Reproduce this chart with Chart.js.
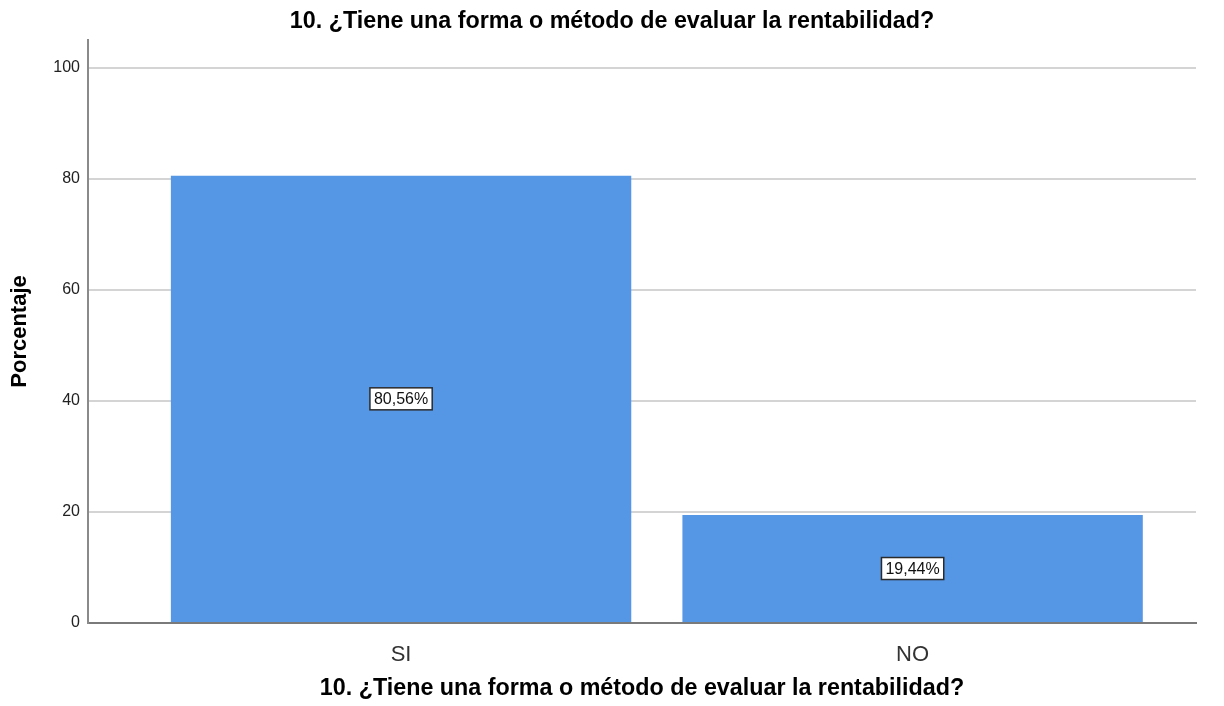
<!DOCTYPE html>
<html>
<head>
<meta charset="utf-8">
<script src="https://cdn.jsdelivr.net/npm/chart.js@4.4.1/dist/chart.umd.min.js"></script>
<style>
  html, body { margin: 0; padding: 0; background: #fff; }
  #wrap { width: 1224px; height: 706px; }
</style>
</head>
<body>
<div id="wrap"><canvas id="c" width="1224" height="706"></canvas></div>
<script>
/* ---------- data ---------- */
const QUESTION   = '10. ¿Tiene una forma o método de evaluar la rentabilidad?';
const categories = ['SI', 'NO'];
const positions  = [1, 2];
const percents   = [80.56, 19.44];
const yTicks     = [0, 20, 40, 60, 80, 100];

const FONT = '"Liberation Sans", Arial, sans-serif';

/* ---------- value boxes in the middle of each bar ---------- */
const boxLabels = {
  id: 'boxLabels',
  afterDatasetsDraw(chart){
    const ctx  = chart.ctx;
    const meta = chart.getDatasetMeta(0);
    ctx.save();
    ctx.font = '16px ' + FONT;
    ctx.textAlign = 'center';
    ctx.textBaseline = 'middle';
    meta.data.forEach((bar, i) => {
      const txt = percents[i].toFixed(2).replace('.', ',') + '%';
      const cx = bar.x, cy = (bar.y + bar.base) / 2;
      const w = ctx.measureText(txt).width + 8, h = 22;
      ctx.fillStyle = '#fff';
      ctx.fillRect(cx - w/2, cy - h/2, w, h);
      ctx.lineWidth = 1.5;
      ctx.strokeStyle = '#2b2b2b';
      ctx.strokeRect(cx - w/2, cy - h/2, w, h);
      ctx.fillStyle = '#111';
      ctx.fillText(txt, cx, cy + 1);
    });
    ctx.restore();
  }
};

new Chart(document.getElementById('c').getContext('2d'), {
  type: 'bar',
  data: {
    datasets: [{
      data: positions.map((x, i) => ({ x, y: percents[i] })),
      backgroundColor: '#5596e5',
      borderWidth: 0,
      barPercentage: 0.9,
      categoryPercentage: 1.0,
    }]
  },
  options: {
    responsive: false,
    animation: false,
    layout: { padding: 0 },
    plugins: {
      legend: { display: false },
      tooltip: { enabled: false },
      title: {
        display: true,
        text: QUESTION,
        color: '#000',
        font: { family: FONT, size: 23.3, weight: 'bold' },
        padding: { top: 8, bottom: 4 }
      }
    },
    scales: {
      x: {
        type: 'linear',
        offset: false,
        min: 0.388, max: 2.554,
        afterBuildTicks: s => { s.ticks = positions.map(v => ({ value: v })); },
        afterFit: s => { s.height = 83; },
        grid: { display: false, offset: false },
        border: { display: true, color: '#7a7a7a', width: 2 },
        ticks: {
          padding: 11,
          color: '#333',
          font: { family: FONT, size: 22 },
          callback: (v, i) => categories[i]
        },
        title: {
          display: true,
          text: QUESTION,
          color: '#000',
          font: { family: FONT, size: 23.3, weight: 'bold' },
          padding: { top: 4, bottom: 3 }
        }
      },
      y: {
        min: 0, max: 105,
        afterBuildTicks: s => { s.ticks = yTicks.map(v => ({ value: v })); },
        afterFit: s => { s.width = 88; },
        grid: { color: '#d4d4d4', lineWidth: 2, drawTicks: false },
        border: { display: true, color: '#8a8a8a', width: 2 },
        ticks: {
          padding: 8,
          color: '#222',
          font: { family: FONT, size: 16 }
        },
        title: {
          display: true,
          text: 'Porcentaje',
          color: '#000',
          font: { family: FONT, size: 22, weight: 'bold' },
          padding: { top: 7, bottom: 0 }
        }
      },
      // empty right-hand strip so the plot stops short of the edge
      yRight: {
        position: 'right',
        min: 0, max: 105,
        afterFit: s => { s.width = 28; },
        grid: { display: false },
        border: { display: false },
        ticks: { display: false }
      }
    }
  },
  plugins: [boxLabels]
});
</script>
</body>
</html>
